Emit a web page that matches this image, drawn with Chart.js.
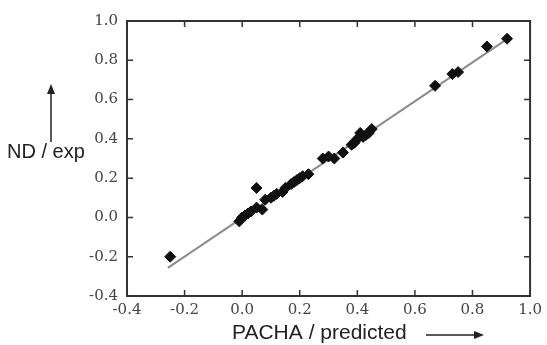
<!DOCTYPE html>
<html>
<head>
<meta charset="utf-8">
<script src="https://cdn.jsdelivr.net/npm/chart.js@4/dist/chart.umd.min.js"></script>
<style>
  html, body { margin: 0; padding: 0; background: #fff; }
  #wrap { width: 547px; height: 345px; }
</style>
</head>
<body>
<div id="wrap"><canvas id="chart" width="547" height="345"></canvas></div>
<script>
// Predicted (PACHA) vs experimental (ND) values
const predicted = [-0.25, -0.01, 0.00, 0.01, 0.02, 0.03, 0.05, 0.05, 0.07, 0.08, 0.10, 0.11,
  0.12, 0.14, 0.15, 0.17, 0.18, 0.19, 0.20, 0.21, 0.23, 0.28, 0.30, 0.32, 0.35,
  0.38, 0.39, 0.40, 0.41, 0.42, 0.43, 0.44, 0.45, 0.67, 0.73, 0.75, 0.85, 0.92];
const experimental = [-0.20, -0.02, 0.00, 0.01, 0.02, 0.03, 0.05, 0.15, 0.04, 0.09, 0.10, 0.11,
  0.12, 0.13, 0.15, 0.17, 0.18, 0.19, 0.20, 0.21, 0.22, 0.30, 0.31, 0.30, 0.33,
  0.37, 0.38, 0.40, 0.43, 0.41, 0.42, 0.43, 0.45, 0.67, 0.73, 0.74, 0.87, 0.91];

// Linear fit line end points
const fitX = [-0.258, 0.925];
const fitY = [-0.257, 0.913];

const tickValues = [-0.4, -0.2, 0.0, 0.2, 0.4, 0.6, 0.8, 1.0];
const xTitle = 'PACHA / predicted';
const yTitle = 'ND / exp';

const points = predicted.map((x, i) => ({ x, y: experimental[i] }));
const fitLine = fitX.map((x, i) => ({ x, y: fitY[i] }));

// Frame with inward ticks on all four sides, plus axis titles with arrows
const framePlugin = {
  id: 'frame',
  afterDatasetsDraw(chart) {
    const { ctx, chartArea: a, scales } = chart;
    ctx.save();
    ctx.strokeStyle = '#333';
    ctx.lineWidth = 2;
    ctx.strokeRect(a.left, a.top, a.right - a.left, a.bottom - a.top);
    ctx.lineWidth = 1.5;
    const len = 6;
    tickValues.forEach(v => {
      const px = scales.x.getPixelForValue(v);
      const py = scales.y.getPixelForValue(v);
      ctx.beginPath();
      ctx.moveTo(px, a.bottom); ctx.lineTo(px, a.bottom - len);
      ctx.moveTo(px, a.top); ctx.lineTo(px, a.top + len);
      ctx.moveTo(a.left, py); ctx.lineTo(a.left + len, py);
      ctx.moveTo(a.right, py); ctx.lineTo(a.right - len, py);
      ctx.stroke();
    });

    // axis titles
    ctx.fillStyle = '#222';
    ctx.textBaseline = 'middle';
    ctx.textAlign = 'left';
    ctx.font = '21px "Liberation Sans", Arial, sans-serif';
    ctx.fillText(xTitle, 232, 333);
    ctx.font = '20px "Liberation Sans", Arial, sans-serif';
    ctx.fillText(yTitle, 7, 152);

    // arrows
    ctx.strokeStyle = '#222';
    ctx.lineWidth = 1.5;
    ctx.beginPath();
    ctx.moveTo(426, 335); ctx.lineTo(476, 335);
    ctx.moveTo(51, 142); ctx.lineTo(51, 92);
    ctx.stroke();
    ctx.beginPath();
    ctx.moveTo(484, 335); ctx.lineTo(474, 331); ctx.lineTo(474, 339); ctx.closePath();
    ctx.moveTo(51, 84); ctx.lineTo(47, 94); ctx.lineTo(55, 94); ctx.closePath();
    ctx.fill();
    ctx.restore();
  }
};

const tickFont = { family: '"DejaVu Serif", "Liberation Serif", serif', size: 15 };

new Chart(document.getElementById('chart'), {
  type: 'scatter',
  data: {
    datasets: [
      {
        label: 'data',
        data: points,
        pointStyle: 'rectRot',
        pointRadius: 5.5,
        backgroundColor: '#111',
        borderColor: '#111',
        borderWidth: 1,
        order: 1
      },
      {
        label: 'fit',
        type: 'line',
        data: fitLine,
        borderColor: '#8c8c8c',
        borderWidth: 2,
        pointRadius: 0,
        fill: false,
        order: 2
      }
    ]
  },
  options: {
    responsive: false,
    animation: false,
    layout: { padding: { top: 21, right: 6, left: 0, bottom: 0 } },
    plugins: { legend: { display: false }, tooltip: { enabled: false } },
    scales: {
      x: {
        type: 'linear', min: -0.4, max: 1.0,
        grid: { display: false, drawTicks: false },
        border: { display: false },
        afterBuildTicks: s => { s.ticks = tickValues.map(v => ({ value: v })); },
        afterFit: s => { s.height = 49; },
        ticks: {
          autoSkip: false, maxRotation: 0, padding: 5,
          color: '#444', font: tickFont,
          callback: v => v.toFixed(1)
        }
      },
      y: {
        type: 'linear', min: -0.4, max: 1.0,
        grid: { display: false, drawTicks: false },
        border: { display: false },
        afterBuildTicks: s => { s.ticks = tickValues.map(v => ({ value: v })); },
        afterFit: s => { s.width = 127; },
        ticks: {
          autoSkip: false, padding: 9,
          color: '#444', font: tickFont,
          callback: v => v.toFixed(1)
        }
      }
    }
  },
  plugins: [framePlugin]
});
</script>
</body>
</html>
